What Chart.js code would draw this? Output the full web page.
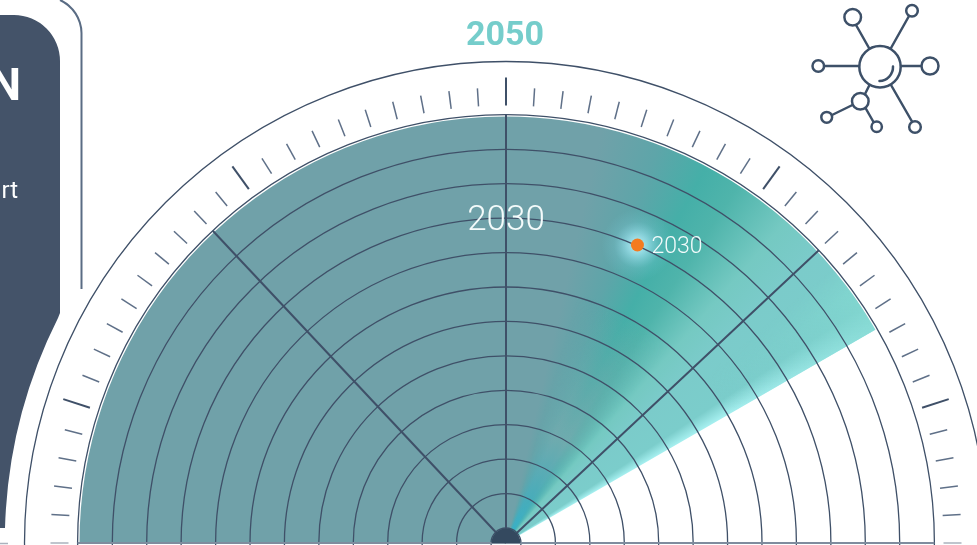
<!DOCTYPE html>
<html>
<head>
<meta charset="utf-8">
<title>2050</title>
<script src="https://cdn.jsdelivr.net/npm/chart.js@4/dist/chart.umd.min.js"></script>
<style>
    html, body { margin: 0; padding: 0; background: #fff; width: 977px; height: 545px; overflow: hidden; }
    #quadro { position: relative; width: 977px; height: 545px; overflow: hidden; font-family: Roboto, sans-serif; }
    #grafico { position: absolute; left: 0; top: 0; }
    svg { position: absolute; left: 0; top: 0; }
    .painel { position: absolute; color: #fff; text-align: right; white-space: nowrap; }
    #painel1 { right: 956px; top: 59px; font-size: 45px; line-height: 52px; font-weight: 700; }
    #painel2 { right: 959px; top: 175px; font-size: 24px; line-height: 30px; font-weight: 400; }
</style>
</head>
<body>
<div id="quadro">
    <svg width="977" height="545">
        <path d="M0 15 H14 A46 46 0 0 1 60 61 V313 L58 318 A500 500 0 0 0 5 528 H0 Z" fill="#445369"/>
        <path d="M60 0 A37 37 0 0 1 81.5 33 V289" fill="none" stroke="#5a6c84" stroke-width="2"/>
        <line x1="0" y1="543.5" x2="8" y2="543.5" stroke="#aab2bd" stroke-width="1.5"/>
        <g fill="none" stroke="#3d5068" stroke-width="2.5" stroke-linecap="round">
            <circle cx="880" cy="66.7" r="20.7"/>
            <circle cx="852.7" cy="17.3" r="8.3"/>
            <circle cx="912" cy="10.7" r="5.8"/>
            <circle cx="818.3" cy="66" r="5.8"/>
            <circle cx="930" cy="66" r="8.5"/>
            <circle cx="915" cy="127" r="5.8"/>
            <circle cx="876.7" cy="126.7" r="5.2"/>
            <circle cx="860.3" cy="101.3" r="8.3"/>
            <circle cx="826.7" cy="117.3" r="5.4"/>
            <path d="M856 25 L869 48 M909 16 L891 48 M824 66 H859 M901 66 H921 M891 85 L912 121.5 M865.5 108 L873.5 122 M869.5 85 L865 94 M852.5 105 L832 115"/>
            <path d="M893 66.5 A14 14 0 0 1 879.5 81"/>
        </g>
    </svg>
    <canvas id="grafico" width="1012" height="1086"></canvas>
    <div class="painel" id="painel1">N</div>
    <div class="painel" id="painel2">rt</div>
</div>

<script>
// dados (raio em px da escala, angulos em graus a partir do topo)
const setorLabels = ['2030'];
const setorRaio = [426.5];
const setorAngulo = [150];
const setorInicio = -90;

const aneis = [0, 15, 49.4, 83.9, 118.3, 152.7, 187.2, 221.6, 256, 290.4, 324.9, 359.3, 393.7, 428.4, 481.5];
const raios = [-90, -43.2, 0, 46.9, 90];
const raioFim = 428.4;

const marcaAngulos = [-90, -86.4, -82.8, -79.2, -75.6, -72, -68.4, -64.8, -61.2, -57.6, -54, -50.4, -46.8, -43.2, -39.6, -36, -32.4, -28.8, -25.2, -21.6, -18, -14.4, -10.8, -7.2, -3.6,
    0, 3.6, 7.2, 10.8, 14.4, 18, 21.6, 25.2, 28.8, 32.4, 36, 39.6, 43.2, 46.8, 50.4, 54, 57.6, 61.2, 64.8, 68.4, 72, 75.6, 79.2, 82.8, 86.4, 90];
const marcasGrandes = [-72, -36, 0, 36, 72];

const centroRaio = 14.5;
const pontoAngulo = [23.8];
const pontoRaio = [325.7];
const pontoAno = ['2030'];
const anoCentral = '2030';
const anoCentralRaio = 325.5;
const anoTopo = '2050';
const anoTopoRaio = 510.5;

// posicao na tela a partir da escala radial
function posicao(escala, angulo, valor) {
    const d = escala.getDistanceFromCenterForValue(valor);
    const a = angulo * Math.PI / 180;
    return { x: escala.xCenter + Math.sin(a) * d, y: escala.yCenter - Math.cos(a) * d };
}

function fracao(angulo) {
    return (angulo - setorInicio) / 360;
}

function corSetor(context) {
    const escala = context.chart.scales.r;
    if (!escala || !isFinite(escala.xCenter)) return '#70a1a9';
    const g = context.chart.ctx.createConicGradient(Math.PI, escala.xCenter, escala.yCenter);
    g.addColorStop(0, '#70a1a9');
    g.addColorStop(fracao(13), '#70a1a9');
    g.addColorStop(fracao(21), '#5ea5a9');
    g.addColorStop(fracao(28), '#45afa8');
    g.addColorStop(fracao(33), '#4fb4ab');
    g.addColorStop(fracao(41), '#75c9c2');
    g.addColorStop(fracao(47), '#7bcbca');
    g.addColorStop(fracao(56.5), '#7bcdcb');
    g.addColorStop(fracao(59.8), '#a4eeee');
    g.addColorStop(fracao(60), '#a4eeee');
    return g;
}

// camada com gradiente radial mascarado por angulo, recortada no setor
function camada(chart, raioMax, coresRaio, coresAngulo) {
    const escala = chart.scales.r;
    const off = document.createElement('canvas');
    off.width = chart.width;
    off.height = chart.height;
    const c = off.getContext('2d');
    const rad = c.createRadialGradient(escala.xCenter, escala.yCenter, 0, escala.xCenter, escala.yCenter, raioMax);
    coresRaio.forEach(function (s) { rad.addColorStop(s[0], s[1]); });
    c.fillStyle = rad;
    c.fillRect(0, 0, off.width, off.height);
    c.globalCompositeOperation = 'destination-in';
    const masc = c.createConicGradient(Math.PI, escala.xCenter, escala.yCenter);
    coresAngulo.forEach(function (s) { masc.addColorStop(fracao(s[0]), 'rgba(0,0,0,' + s[1] + ')'); });
    c.fillStyle = masc;
    c.fillRect(0, 0, off.width, off.height);

    const ctx = chart.ctx;
    const ini = (setorInicio - 90) * Math.PI / 180;
    ctx.save();
    ctx.beginPath();
    ctx.moveTo(escala.xCenter, escala.yCenter);
    ctx.arc(escala.xCenter, escala.yCenter, escala.getDistanceFromCenterForValue(setorRaio[0]), ini, ini + setorAngulo[0] * Math.PI / 180);
    ctx.closePath();
    ctx.clip();
    ctx.drawImage(off, 0, 0, chart.width, chart.height);
    ctx.restore();
}

// desvanecimento perto do centro e brilho do ponto, por baixo dos aneis
const pluginBrilho = {
    id: 'pluginBrilho',
    afterDatasetsDraw(chart) {
        const escala = chart.scales.r;
        const ctx = chart.ctx;

        camada(chart, 260, [
            [0, 'rgba(50,178,205,0.95)'],
            [0.18, 'rgba(70,172,190,0.85)'],
            [0.45, 'rgba(118,170,175,0.85)'],
            [1, 'rgba(115,165,172,0)']
        ], [[16, 0], [24, 1], [31, 1], [40, 0]]);

        // a borda clara some perto do arco externo
        camada(chart, 430, [
            [0, 'rgba(123,205,203,0)'],
            [0.6, 'rgba(123,205,203,0)'],
            [1, 'rgba(130,215,208,0.8)']
        ], [[50, 0], [54, 1], [60, 1], [60.1, 0]]);

        pontoAngulo.forEach(function (angulo, i) {
            const p = posicao(escala, angulo, pontoRaio[i]);
            const g = ctx.createRadialGradient(p.x, p.y, 0, p.x, p.y, 36);
            g.addColorStop(0, 'rgba(205,245,252,0.95)');
            g.addColorStop(0.3, 'rgba(165,232,245,0.65)');
            g.addColorStop(0.65, 'rgba(140,215,230,0.18)');
            g.addColorStop(1, 'rgba(130,210,225,0)');
            ctx.fillStyle = g;
            ctx.beginPath();
            ctx.arc(p.x, p.y, 36, 0, Math.PI * 2);
            ctx.fill();
        });
    }
};

// raios, marcas do mostrador, ponto e textos
const pluginMostrador = {
    id: 'pluginMostrador',
    afterDraw(chart) {
        const escala = chart.scales.r;
        const ctx = chart.ctx;
        ctx.save();
        ctx.lineCap = 'butt';

        raios.forEach(function (angulo) {
            const p = posicao(escala, angulo, raioFim);
            ctx.beginPath();
            ctx.moveTo(escala.xCenter, escala.yCenter);
            ctx.lineTo(p.x, p.y);
            ctx.strokeStyle = Math.abs(angulo) === 90 ? '#7f8c9e' : '#3f5068';
            ctx.lineWidth = 2;
            ctx.stroke();
        });

        marcaAngulos.forEach(function (angulo) {
            const grande = marcasGrandes.includes(angulo);
            const a = posicao(escala, angulo, 437.5);
            const b = posicao(escala, angulo, grande ? 465.5 : 455.5);
            ctx.beginPath();
            ctx.moveTo(a.x, a.y);
            ctx.lineTo(b.x, b.y);
            ctx.strokeStyle = Math.abs(angulo) === 90 ? '#aab2bd' : (grande ? '#3f5068' : '#5f7088');
            ctx.lineWidth = grande ? 2 : 1.5;
            ctx.stroke();
        });

        ctx.beginPath();
        ctx.arc(escala.xCenter, escala.yCenter, escala.getDistanceFromCenterForValue(centroRaio), Math.PI, 0);
        ctx.fillStyle = '#34495f';
        ctx.fill();

        ctx.textBaseline = 'middle';
        pontoAngulo.forEach(function (angulo, i) {
            const p = posicao(escala, angulo, pontoRaio[i]);
            ctx.beginPath();
            ctx.arc(p.x, p.y, 6.5, 0, Math.PI * 2);
            ctx.fillStyle = '#f47b20';
            ctx.fill();
            ctx.fillStyle = '#f2fbfb';
            ctx.textAlign = 'left';
            ctx.font = '300 23px Roboto';
            ctx.fillText(pontoAno[i], p.x + 14, p.y + 2);
        });

        const centro = posicao(escala, 0, anoCentralRaio);
        ctx.textAlign = 'center';
        ctx.fillStyle = '#f4fbfb';
        ctx.font = '300 35px Roboto';
        ctx.fillText(anoCentral, centro.x, centro.y + 3.5);

        const topo = posicao(escala, 0, anoTopoRaio);
        ctx.fillStyle = '#75cdcb';
        ctx.font = '700 34px Roboto';
        ctx.fillText(anoTopo, topo.x - 1, topo.y + 3.5);

        ctx.restore();
    }
};

new Chart(document.getElementById('grafico').getContext('2d'), {
    type: 'polarArea',
    data: {
        labels: setorLabels,
        datasets: [{
            label: 'Setor',
            data: setorRaio,
            angle: setorAngulo[0],
            backgroundColor: corSetor,
            borderWidth: 0
        }]
    },
    options: {
        responsive: false,
        animation: false,
        layout: { padding: 0 },
        scales: {
            r: {
                min: 0,
                max: 506,
                startAngle: setorInicio,
                afterBuildTicks: function (escala) {
                    escala.ticks = aneis.map(function (v) { return { value: v }; });
                },
                ticks: { display: false },
                pointLabels: { display: false },
                angleLines: { display: false },
                grid: { circular: true, color: '#3f5068', lineWidth: 1.3, z: 1 }
            }
        },
        plugins: {
            legend: { display: false },
            tooltip: { enabled: false }
        }
    },
    plugins: [pluginBrilho, pluginMostrador]
});
</script>
</body>
</html>
